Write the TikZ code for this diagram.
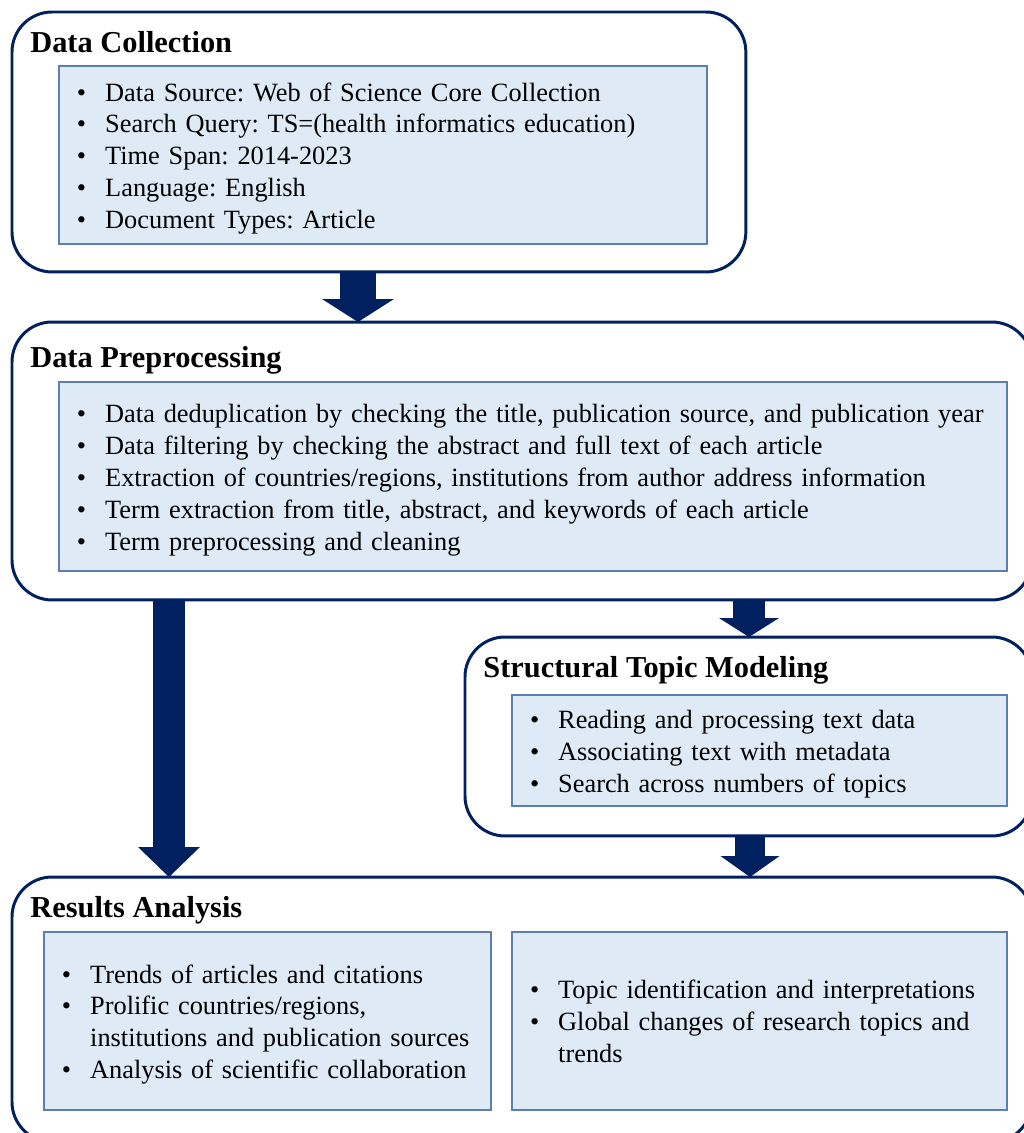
\documentclass[tikz,border=0pt]{standalone}
\usepackage{fontspec}
\setmainfont{Liberation Serif}
\usetikzlibrary{arrows.meta}
\frenchspacing

\definecolor{navy}{HTML}{002060}
\definecolor{listfill}{HTML}{DEEAF6}
\definecolor{listline}{HTML}{5B7FAF}

\newcommand{\bulletlist}[1]{\raisebox{-0.07cm}[\height][\depth]{%
  \begin{tabular}{@{}l@{\hspace{0.38cm}}l@{}}#1\end{tabular}}}

\begin{document}
\begin{tikzpicture}[x=0.02cm, y=-0.02cm,
    stage/.style={draw=navy, line width=1.7pt, rectangle, rounded corners=0.8cm, anchor=north west, outer sep=0pt},
    heading/.style={anchor=base west, inner sep=0pt, font=\fontsize{17.3pt}{20pt}\selectfont\bfseries},
    listbox/.style={draw=listline, line width=0.8pt, fill=listfill, rectangle, anchor=north west, outer sep=0pt, inner xsep=0.36cm, inner ysep=0pt, align=left, font=\fontsize{15pt}{18.14pt}\selectfont},
    flow/.style={draw=navy, line width=0.64cm}
  ]
    \useasboundingbox (0,0) rectangle (1024,1133);

    % Data collection
    \node[stage, minimum width=14.68cm, minimum height=5.2cm] (dc) at (12,12) {};
    \node[heading] (dctitle) at (30,52) {Data Collection};
    \node[listbox, text width=12.24cm, minimum height=3.56cm] (dcitems) at (59,66) {\bulletlist{%
        \textbullet & Data Source: Web of Science Core Collection\\
        \textbullet & Search Query: TS=(health informatics education)\\
        \textbullet & Time Span: 2014-2023\\
        \textbullet & Language: English\\
        \textbullet & Document Types: Article}};

    % Data preprocessing
    \node[stage, minimum width=20.4cm, minimum height=5.56cm] (dp) at (12,322) {};
    \node[heading] (dptitle) at (30,367) {Data Preprocessing};
    \node[listbox, text width=18.24cm, minimum height=3.78cm] (dpitems) at (59,382) {\bulletlist{%
        \textbullet & Data deduplication by checking the title, publication source, and publication year\\
        \textbullet & Data filtering by checking the abstract and full text of each article\\
        \textbullet & Extraction of countries/regions, institutions from author address information\\
        \textbullet & Term extraction from title, abstract, and keywords of each article\\
        \textbullet & Term preprocessing and cleaning}};

    % Structural topic modeling
    \node[stage, minimum width=11.34cm, minimum height=3.98cm] (stm) at (465,637) {};
    \node[heading] (stmtitle) at (483,677) {Structural Topic Modeling};
    \node[listbox, text width=9.18cm, minimum height=2.22cm] (stmitems) at (512,695) {\bulletlist{%
        \textbullet & Reading and processing text data\\
        \textbullet & Associating text with metadata\\
        \textbullet & Search across numbers of topics}};

    % Results analysis
    \node[stage, minimum width=20.4cm, minimum height=5.3cm] (ra) at (12,877) {};
    \node[heading] (ratitle) at (30,917) {Results Analysis};
    \node[listbox, text width=8.22cm, minimum height=3.56cm] (raleft) at (44,932) {\bulletlist{%
        \textbullet & Trends of articles and citations\\
        \textbullet & Prolific countries/regions,\\
                    & institutions and publication sources\\
        \textbullet & Analysis of scientific collaboration}};
    \node[listbox, text width=9.18cm, minimum height=3.56cm] (raright) at (512,932) {\bulletlist{%
        \textbullet & Topic identification and interpretations\\
        \textbullet & Global changes of research topics and\\
                    & trends}};

    % Arrows between stages
    \draw[flow, line width=0.72cm, -{Triangle[length=0.46cm, width=1.44cm, line width=0pt]}] (dc.south -| 358,0) -- (dp.north -| 358,0);
    \draw[flow, -{Triangle[length=0.6cm, width=1.24cm, line width=0pt]}] (dp.south -| 169,0) -- (ra.north -| 169,0);
    \draw[flow, -{Triangle[length=0.38cm, width=1.2cm, line width=0pt]}] (dp.south -| 749,0) -- (stm.north -| 749,0);
    \draw[flow, line width=0.6cm, -{Triangle[length=0.42cm, width=1.18cm, line width=0pt]}] (stm.south -| 750,0) -- (ra.north -| 750,0);

\end{tikzpicture}
\end{document}
